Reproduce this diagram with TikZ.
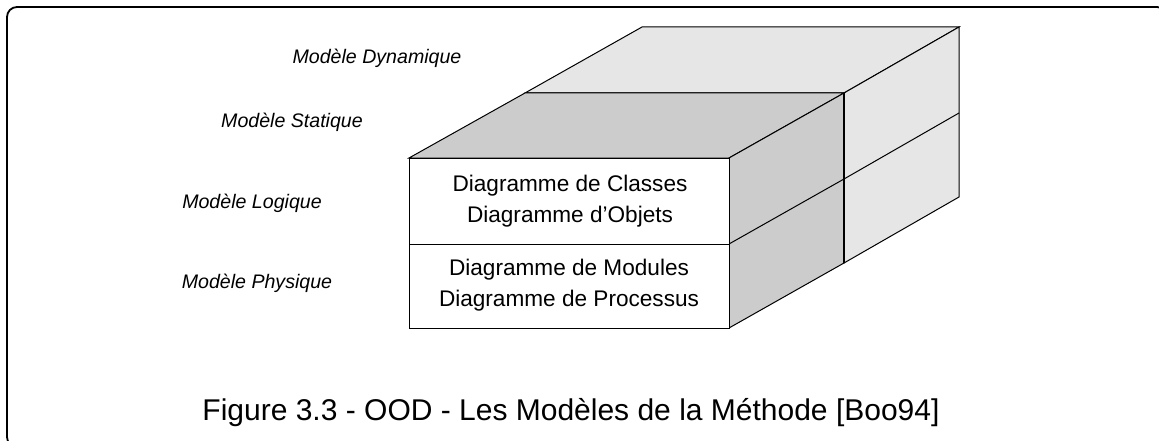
\documentclass[tikz,border=0pt]{standalone}
\usepackage{fontspec}
\setmainfont{Liberation Sans}
\definecolor{dyn}{HTML}{E6E6E6}
\definecolor{stat}{HTML}{CCCCCC}
\begin{document}
\begin{tikzpicture}[x=1pt,y=-1pt,line join=miter,
  face/.style={draw=black,line width=1pt},
  lbl/.style={font=\fontsize{19.6}{22}\selectfont\itshape,inner sep=0pt},
  boxtxt/.style={font=\fontsize{22.6}{31}\selectfont,align=center,inner sep=0pt},
  caption/.style={font=\fontsize{30}{34}\selectfont,inner sep=0pt}]
\useasboundingbox (0,0) rectangle (1159,441);
\fill[white] (0,0) rectangle (1159,441);
\begin{scope}
\clip (0,0) rectangle (1159,441);
\draw[line width=1.8pt,rounded corners=10pt] (7,7) rectangle (1167,447);
\end{scope}
% dynamic layer
\filldraw[face,fill=dyn] (525,93) -- (642,27) -- (959,27) -- (844,93) -- cycle;
\filldraw[face,fill=dyn] (844,93) -- (959,27) -- (959,197) -- (844,263) -- cycle;
\draw[face] (844,179) -- (959,113);
% static layer
\filldraw[face,fill=stat] (409,158) -- (525,93) -- (844,93) -- (729,158) -- cycle;
\filldraw[face,fill=stat] (729,158) -- (844,93) -- (844,263) -- (729,328) -- cycle;
\draw[face] (729,244) -- (844,179);
\draw[line width=1.6pt] (844,93) -- (844,263);
% front
\filldraw[face,fill=white] (409,158) rectangle (729,328);
\draw[face] (409,244) -- (729,244);
% texts
\node[lbl] (dyn) at (377,58) {Modèle Dynamique};
\node[lbl] (stat) at (292,122) {Modèle Statique};
\node[lbl] (log) at (252,203) {Modèle Logique};
\node[lbl] (phys) at (257,283) {Modèle Physique};
\node[boxtxt] (t1) at (570,201) {Diagramme de Classes\\Diagramme d’Objets};
\node[boxtxt] (t2) at (569,285) {Diagramme de Modules\\Diagramme de Processus};
\node[caption] (cap) at (571,413) {Figure 3.3 - OOD - Les Modèles de la Méthode [Boo94]};
\end{tikzpicture}
\end{document}
